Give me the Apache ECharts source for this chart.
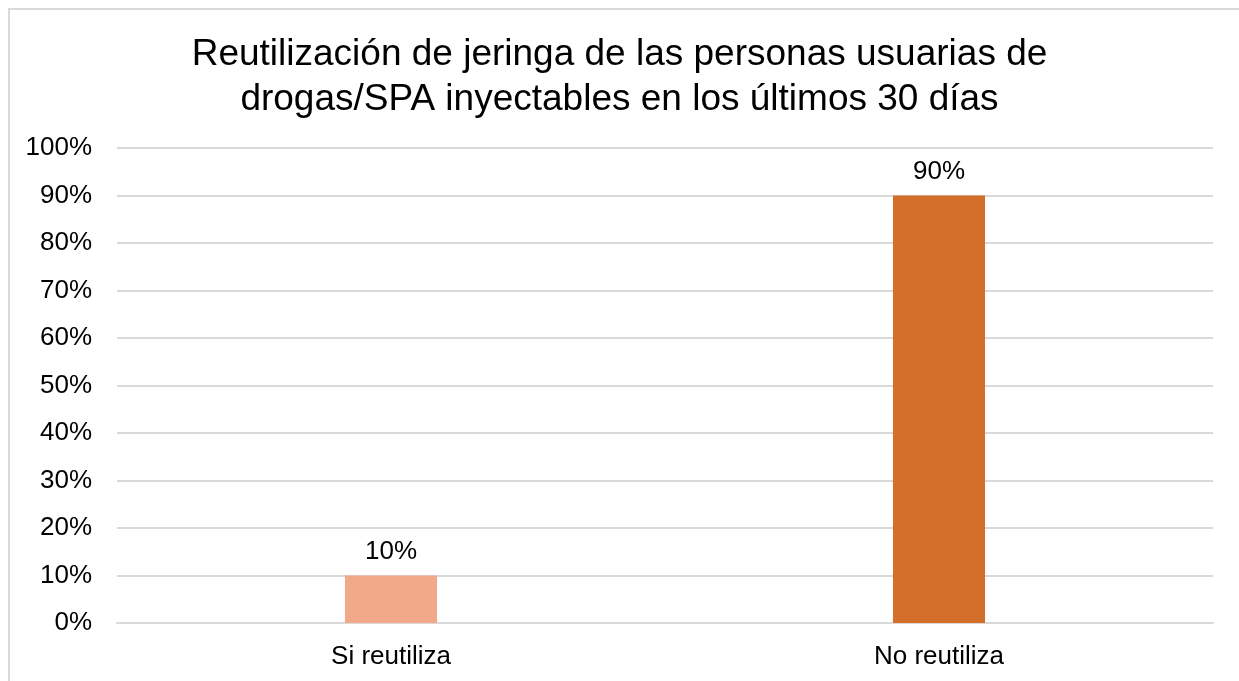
<!DOCTYPE html>
<html>
<head>
<meta charset="utf-8">
<script src="https://cdn.jsdelivr.net/npm/echarts@6/dist/echarts.min.js"></script>
<style>
  html, body { margin: 0; padding: 0; background: #fff; }
  #chart { width: 1239px; height: 681px; }
  .frame { position: absolute; left: 8px; top: 8px; width: 1240px; height: 690px; border: 2px solid #d9d9d9; box-sizing: border-box; pointer-events: none; }
</style>
</head>
<body>
<div id="chart"></div>
<div class="frame"></div>
<script>
// datos del grafico
var categorias = ['Si reutiliza', 'No reutiliza'];
var valores = [10, 90];
var colores = ['#F2A98A', '#D36F2B'];
var titulo = 'Reutilización de jeringa de las personas usuarias de\ndrogas/SPA inyectables en los últimos 30 días';

var chart = echarts.init(document.getElementById('chart'));
chart.setOption({
  animation: false,
  textStyle: { fontFamily: 'Liberation Sans, Arial, sans-serif' },
  title: {
    text: titulo,
    left: 'center',
    top: 27,
    textStyle: { fontSize: 37, fontWeight: 'normal', color: '#000', lineHeight: 45 }
  },
  grid: { left: 117, right: 26, top: 148, bottom: 58, containLabel: false },
  xAxis: {
    type: 'category',
    data: categorias,
    axisTick: { show: false },
    axisLine: { lineStyle: { color: '#d9d9d9', width: 2 } },
    axisLabel: { color: '#000', fontSize: 26, margin: 21 }
  },
  yAxis: {
    type: 'value',
    min: 0,
    max: 100,
    interval: 10,
    axisLabel: { formatter: '{value}%', color: '#000', fontSize: 26, margin: 25 },
    splitLine: { lineStyle: { color: '#d9d9d9', width: 2 } },
    axisLine: { show: false },
    axisTick: { show: false }
  },
  series: [{
    type: 'bar',
    barWidth: '16.8%',
    data: valores.map(function (v, i) {
      return { value: v, itemStyle: { color: colores[i] } };
    }),
    label: {
      show: true,
      position: 'top',
      formatter: '{c}%',
      color: '#000',
      fontSize: 26,
      distance: 11
    }
  }]
});
</script>
</body>
</html>
